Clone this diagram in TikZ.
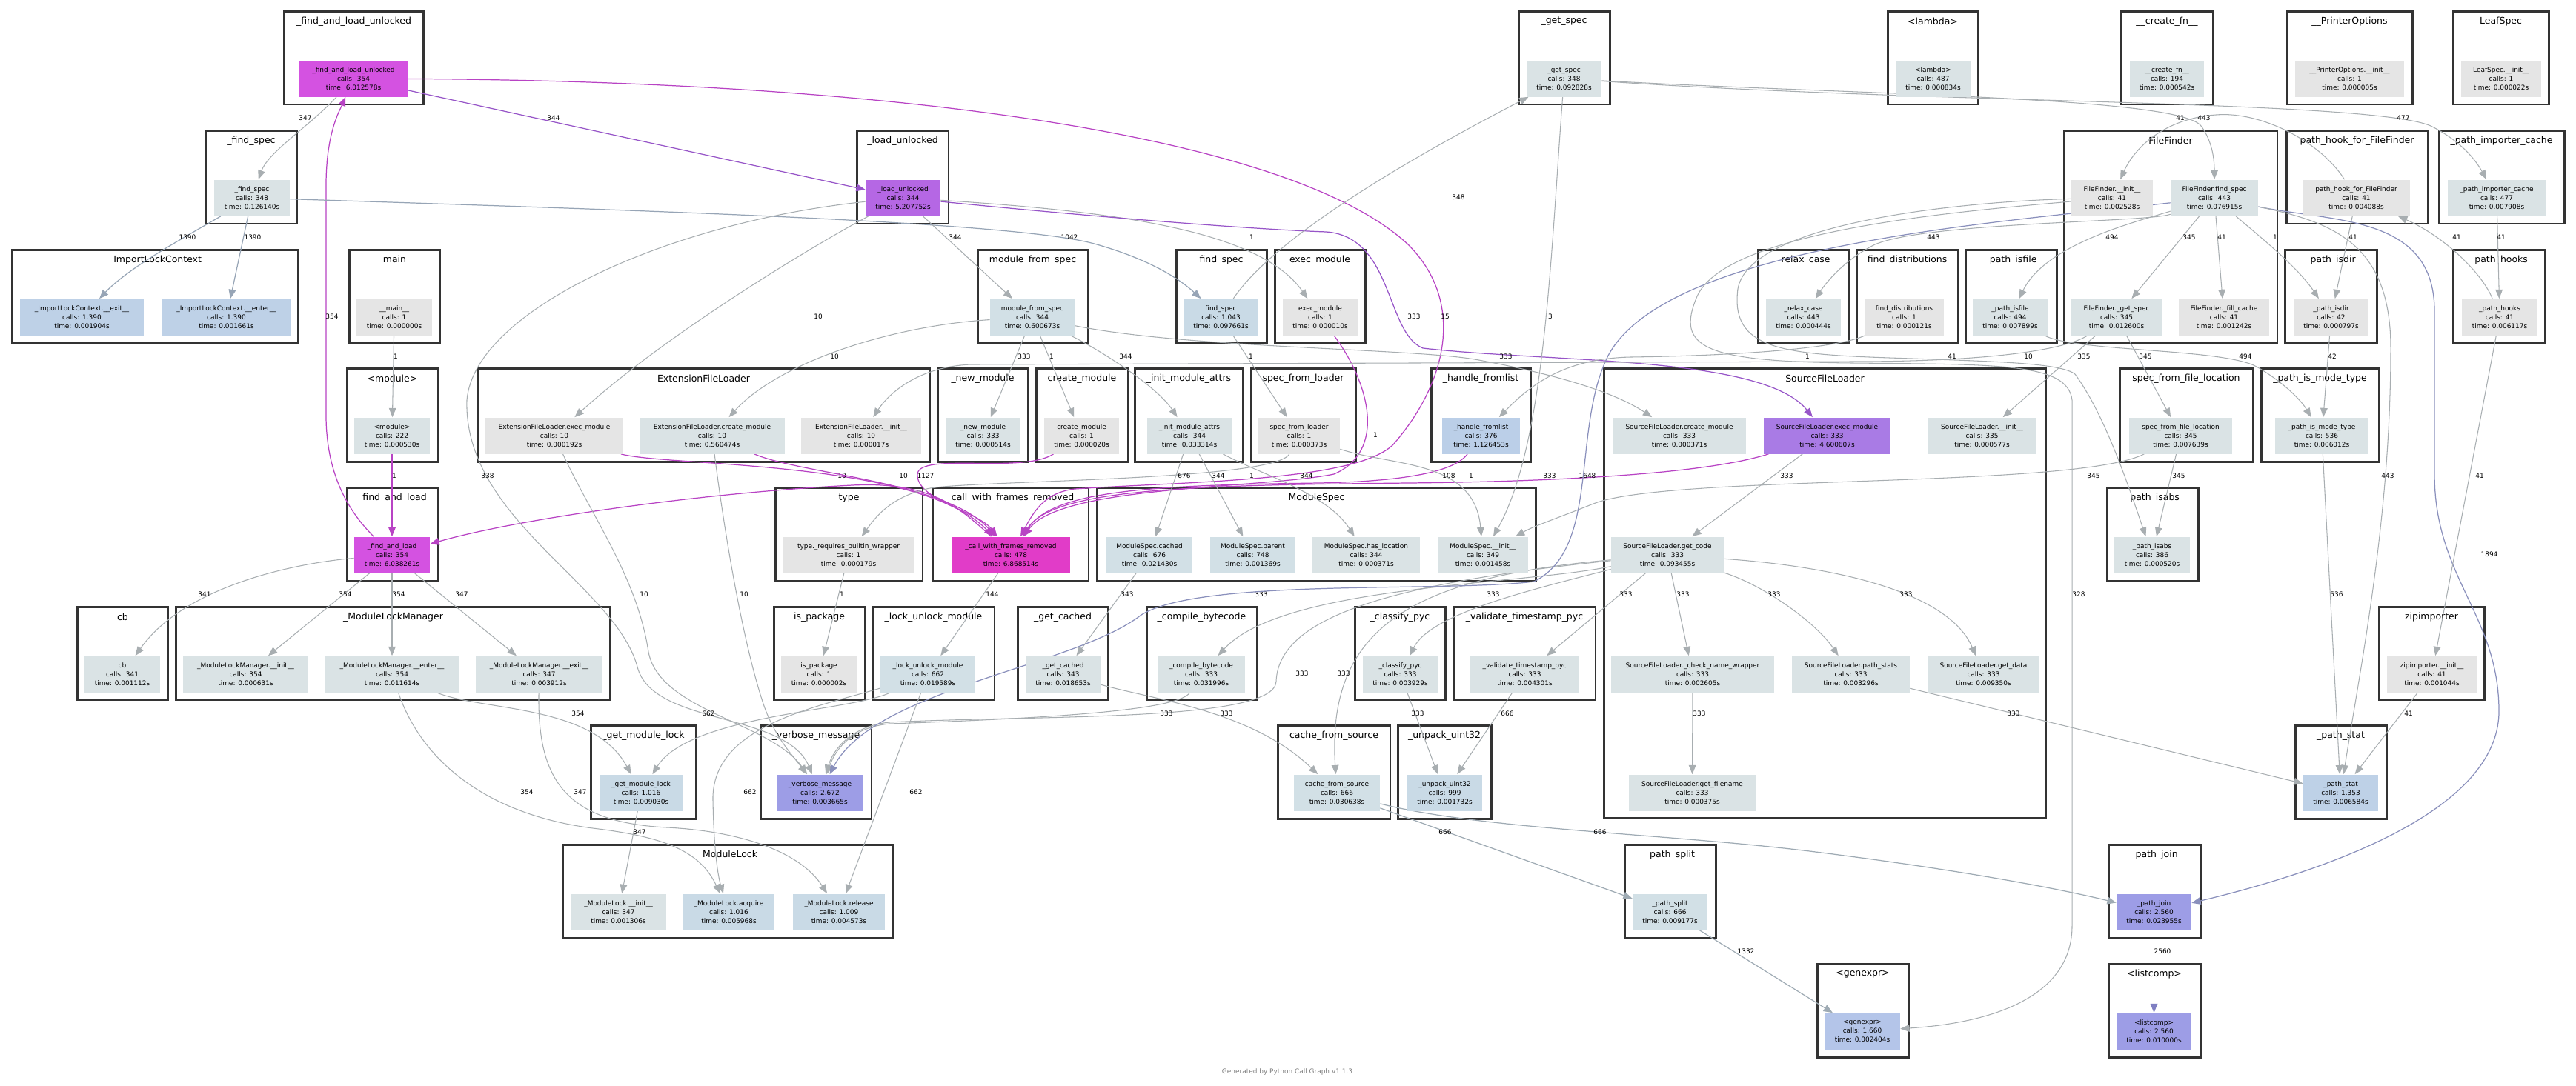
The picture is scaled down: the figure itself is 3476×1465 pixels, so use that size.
\documentclass[tikz,border=0pt]{standalone}
\usepackage{fontspec}
\setmainfont{DejaVu Sans}
\usetikzlibrary{arrows.meta}

\definecolor{cframe}{HTML}{333333}
\definecolor{cmag}{HTML}{D452E1}
\definecolor{ccwf}{HTML}{E13CC8}
\definecolor{clu}{HTML}{B567E4}
\definecolor{csle}{HTML}{A97BE5}
\definecolor{clav}{HTML}{9D9DE6}
\definecolor{cgen}{HTML}{B4C5E9}
\definecolor{chf}{HTML}{BBCFE8}
\definecolor{cblu1}{HTML}{BED1E7}
\definecolor{cblu2}{HTML}{C9DAE6}
\definecolor{cblu3}{HTML}{D2E0E6}
\definecolor{cpale}{HTML}{DAE3E5}
\definecolor{cgray}{HTML}{E5E5E5}
\definecolor{egray}{HTML}{A8AEB1}
\definecolor{emag}{HTML}{B843C4}
\definecolor{epur}{HTML}{9755C8}
\definecolor{eslate}{HTML}{97A5B6}
\definecolor{eslatetwo}{HTML}{9FABB4}
\definecolor{eblue}{HTML}{8A90BC}
\definecolor{elav}{HTML}{7F7FC2}

\pgfdeclarelayer{bg}
\pgfdeclarelayer{fg}
\pgfsetlayers{bg,main,fg}

\begin{document}
\begin{tikzpicture}[
        x = 0.02cm, y = -0.02cm, % one unit = one pixel of the graph
        > = {Triangle[length=7pt,width=5.5pt]}, % arrow head style
        clbox/.style = {draw=cframe, line width=1.7pt, minimum height=2.52cm, inner sep=0pt},
        ctitle/.style = {font=\fontsize{7.1}{8.5}\selectfont, inner sep=0pt},
        fn/.style = {rectangle, align=center, minimum height=0.98cm, inner sep=1pt, font=\fontsize{5.1}{6.8}\selectfont},
        lbl/.style = {font=\fontsize{5.1}{6}\selectfont, inner sep=0pt},
        foot/.style = {font=\fontsize{5.1}{6}\selectfont, text=black!50, inner sep=0pt},
        ee/.style = {->, draw=egray, line width=0.6pt},
        es/.style = {->, draw=eslate, line width=0.7pt},
        estwo/.style = {->, draw=eslatetwo, line width=0.7pt},
        eb/.style = {->, draw=eblue, line width=0.7pt},
        el/.style = {->, draw=elav, line width=0.7pt},
        em/.style = {->, draw=emag, line width=0.7pt},
        ep/.style = {->, draw=epur, line width=0.7pt}
    ]

\useasboundingbox (0,0) rectangle (3476,1465);

\begin{pgfonlayer}{bg}
	\fill[white] (0,0) rectangle (3476,1465);

	% clusters, row 1
	\node[clbox, minimum width=3.78cm] (kFLU) at (477.5,78) {};
	\node[clbox, minimum width=2.46cm] (kGetSpec) at (2110.5,78) {};
	\node[clbox, minimum width=2.44cm] (kLambda) at (2608,78) {};
	\node[clbox, minimum width=2.48cm] (kCreateFn) at (2924,78) {};
	\node[clbox, minimum width=3.38cm] (kPrinter) at (3170.5,78) {};
	\node[clbox, minimum width=2.58cm] (kLeaf) at (3374.5,78) {};
	% row 2
	\node[clbox, minimum width=2.48cm] (kFindSpecU) at (339,239) {};
	\node[clbox, minimum width=2.48cm] (kLoadU) at (1218,239) {};
	\node[clbox, minimum width=5.76cm, minimum height=5.74cm] (kFF) at (2929,319.5) {};
	\node[clbox, minimum width=3.82cm] (kHook) at (3180.5,239) {};
	\node[clbox, minimum width=3.38cm] (kImpCache) at (3375.5,239) {};
	% row 3
	\node[clbox, minimum width=7.74cm] (kILC) at (209.5,400) {};
	\node[clbox, minimum width=2.46cm] (kMain) at (532.5,400) {};
	\node[clbox, minimum width=2.98cm] (kModFromSpec) at (1393.5,400) {};
	\node[clbox, minimum width=2.44cm] (kFindSpec) at (1648,400) {};
	\node[clbox, minimum width=2.44cm] (kExecMod) at (1781,400) {};
	\node[clbox, minimum width=2.46cm] (kRelax) at (2433.5,400) {};
	\node[clbox, minimum width=2.74cm] (kFindDist) at (2573.5,400) {};
	\node[clbox, minimum width=2.46cm] (kIsFile) at (2713.5,400) {};
	\node[clbox, minimum width=2.48cm] (kIsDir) at (3145,400) {};
	\node[clbox, minimum width=2.48cm] (kHooks) at (3372,400) {};
	% row 4
	\node[clbox, minimum width=2.46cm] (kModule) at (529.5,560.5) {};
	\node[clbox, minimum width=12.22cm] (kEFL) at (949.5,560.5) {};
	\node[clbox, minimum width=2.44cm] (kNewMod) at (1326,560.5) {};
	\node[clbox, minimum width=2.48cm] (kCreateMod) at (1460,560.5) {};
	\node[clbox, minimum width=2.92cm] (kInitAttrs) at (1604,560.5) {};
	\node[clbox, minimum width=2.82cm] (kSpecLoader) at (1758.5,560.5) {};
	\node[clbox, minimum width=2.68cm] (kFromlist) at (1998,560.5) {};
	\node[clbox, minimum width=11.94cm, minimum height=12.16cm] (kSFL) at (2462.5,801) {};
	\node[clbox, minimum width=3.6cm] (kSpecFile) at (2950,560.5) {};
	\node[clbox, minimum width=3.18cm] (kModeType) at (3130.5,560.5) {};
	% row 5
	\node[clbox, minimum width=2.46cm] (kFL) at (529.5,721) {};
	\node[clbox, minimum width=3.98cm] (kType) at (1145.5,721) {};
	\node[clbox, minimum width=4.22cm] (kCWF) at (1363.5,721) {};
	\node[clbox, minimum width=11.86cm] (kMS) at (1776.5,721) {};
	\node[clbox, minimum width=2.46cm] (kIsAbs) at (2904.5,721) {};
	% row 6
	\node[clbox, minimum width=2.46cm] (kCb) at (165.5,882) {};
	\node[clbox, minimum width=11.74cm] (kMLM) at (530.5,882) {};
	\node[clbox, minimum width=2.46cm] (kIsPkg) at (1105.5,882) {};
	\node[clbox, minimum width=3.3cm] (kLockUnlock) at (1259.5,882) {};
	\node[clbox, minimum width=2.44cm] (kGetCached) at (1434,882) {};
	\node[clbox, minimum width=2.98cm] (kCompile) at (1621.5,882) {};
	\node[clbox, minimum width=2.44cm] (kClassify) at (1889,882) {};
	\node[clbox, minimum width=3.84cm] (kValidate) at (2057,882) {};
	\node[clbox, minimum width=2.84cm] (kZip) at (3281,882) {};
	% row 7
	\node[clbox, minimum width=2.84cm] (kGetLock) at (868,1042) {};
	\node[clbox, minimum width=3.0cm] (kVerbose) at (1101,1042) {};
	\node[clbox, minimum width=3.04cm] (kCacheSrc) at (1800,1042) {};
	\node[clbox, minimum width=2.52cm] (kUnpack) at (1949,1042) {};
	\node[clbox, minimum width=2.46cm] (kStat) at (3158.5,1042) {};
	% row 8
	\node[clbox, minimum width=8.92cm] (kML) at (982,1203) {};
	\node[clbox, minimum width=2.46cm] (kSplit) at (2253.5,1203) {};
	\node[clbox, minimum width=2.48cm] (kJoin) at (2907,1203) {};
	% row 9
	\node[clbox, minimum width=2.46cm] (kGenexpr) at (2513.5,1364) {};
	\node[clbox, minimum width=2.48cm] (kListcomp) at (2907,1364) {};

	% cluster titles
	\node[ctitle] (tFLU) at (477.5,29) {\_find\_and\_load\_unlocked};
	\node[ctitle] (tGetSpec) at (2110.5,29) {\_get\_spec};
	\node[ctitle] (tLambda) at (2608,29) {<lambda>};
	\node[ctitle] (tCreateFn) at (2924,29) {\_\_create\_fn\_\_};
	\node[ctitle] (tPrinter) at (3170.5,29) {\_\_PrinterOptions};
	\node[ctitle] (tLeaf) at (3374.5,29) {LeafSpec};
	\node[ctitle] (tFindSpecU) at (339,190) {\_find\_spec};
	\node[ctitle] (tLoadU) at (1218,190) {\_load\_unlocked};
	\node[ctitle] (tFF) at (2929,190) {FileFinder};
	\node[ctitle] (tHook) at (3180.5,190) {path\_hook\_for\_FileFinder};
	\node[ctitle] (tImpCache) at (3375.5,190) {\_path\_importer\_cache};
	\node[ctitle] (tILC) at (209.5,351) {\_ImportLockContext};
	\node[ctitle] (tMain) at (532.5,351) {\_\_main\_\_};
	\node[ctitle] (tModFromSpec) at (1393.5,351) {module\_from\_spec};
	\node[ctitle] (tFindSpec) at (1648,351) {find\_spec};
	\node[ctitle] (tExecMod) at (1781,351) {exec\_module};
	\node[ctitle] (tRelax) at (2433.5,351) {\_relax\_case};
	\node[ctitle] (tFindDist) at (2573.5,351) {find\_distributions};
	\node[ctitle] (tIsFile) at (2713.5,351) {\_path\_isfile};
	\node[ctitle] (tIsDir) at (3145,351) {\_path\_isdir};
	\node[ctitle] (tHooks) at (3372,351) {\_path\_hooks};
	\node[ctitle] (tModule) at (529.5,511) {<module>};
	\node[ctitle] (tEFL) at (949.5,511) {ExtensionFileLoader};
	\node[ctitle] (tNewMod) at (1326,511) {\_new\_module};
	\node[ctitle] (tCreateMod) at (1460,511) {create\_module};
	\node[ctitle] (tInitAttrs) at (1604,511) {\_init\_module\_attrs};
	\node[ctitle] (tSpecLoader) at (1758.5,511) {spec\_from\_loader};
	\node[ctitle] (tFromlist) at (1998,511) {\_handle\_fromlist};
	\node[ctitle] (tSFL) at (2462.5,511) {SourceFileLoader};
	\node[ctitle] (tSpecFile) at (2950,511) {spec\_from\_file\_location};
	\node[ctitle] (tModeType) at (3130.5,511) {\_path\_is\_mode\_type};
	\node[ctitle] (tFL) at (529.5,672) {\_find\_and\_load};
	\node[ctitle] (tType) at (1145.5,672) {type};
	\node[ctitle] (tCWF) at (1363.5,672) {\_call\_with\_frames\_removed};
	\node[ctitle] (tMS) at (1776.5,672) {ModuleSpec};
	\node[ctitle] (tIsAbs) at (2904.5,672) {\_path\_isabs};
	\node[ctitle] (tCb) at (165.5,833) {cb};
	\node[ctitle] (tMLM) at (530.5,833) {\_ModuleLockManager};
	\node[ctitle] (tIsPkg) at (1105.5,833) {is\_package};
	\node[ctitle] (tLockUnlock) at (1259.5,833) {\_lock\_unlock\_module};
	\node[ctitle] (tGetCached) at (1434,833) {\_get\_cached};
	\node[ctitle] (tCompile) at (1621.5,833) {\_compile\_bytecode};
	\node[ctitle] (tClassify) at (1889,833) {\_classify\_pyc};
	\node[ctitle] (tValidate) at (2057,833) {\_validate\_timestamp\_pyc};
	\node[ctitle] (tZip) at (3281,833) {zipimporter};
	\node[ctitle] (tGetLock) at (868,993) {\_get\_module\_lock};
	\node[ctitle] (tVerbose) at (1101,993) {\_verbose\_message};
	\node[ctitle] (tCacheSrc) at (1800,993) {cache\_from\_source};
	\node[ctitle] (tUnpack) at (1949,993) {\_unpack\_uint32};
	\node[ctitle] (tStat) at (3158.5,993) {\_path\_stat};
	\node[ctitle] (tML) at (982,1154) {\_ModuleLock};
	\node[ctitle] (tSplit) at (2253.5,1154) {\_path\_split};
	\node[ctitle] (tJoin) at (2907,1154) {\_path\_join};
	\node[ctitle] (tGenexpr) at (2513.5,1315) {<genexpr>};
	\node[ctitle] (tListcomp) at (2907,1315) {<listcomp>};
\end{pgfonlayer}

\begin{pgfonlayer}{fg}
	% functions, row 1
	\node[fn, fill=cmag, minimum width=2.92cm] (nFLU) at (477,106) {\_find\_and\_load\_unlocked\\calls: 354\\time: 6.012578s};
	\node[fn, fill=cpale, minimum width=2.02cm] (nGetSpec) at (2110.5,106) {\_get\_spec\\calls: 348\\time: 0.092828s};
	\node[fn, fill=cpale, minimum width=2.02cm] (nLambda) at (2608.5,106) {<lambda>\\calls: 487\\time: 0.000834s};
	\node[fn, fill=cpale, minimum width=2.0cm] (nCreateFn) at (2924,106) {\_\_create\_fn\_\_\\calls: 194\\time: 0.000542s};
	\node[fn, fill=cgray, minimum width=2.94cm] (nPrinter) at (3170.5,106) {\_\_PrinterOptions.\_\_init\_\_\\calls: 1\\time: 0.000005s};
	\node[fn, fill=cgray, minimum width=2.16cm] (nLeaf) at (3375,106) {LeafSpec.\_\_init\_\_\\calls: 1\\time: 0.000022s};
	% row 2
	\node[fn, fill=cpale, minimum width=2.04cm] (nFindSpecU) at (340,267) {\_find\_spec\\calls: 348\\time: 0.126140s};
	\node[fn, fill=clu, minimum width=2.02cm] (nLoadU) at (1218.5,267) {\_load\_unlocked\\calls: 344\\time: 5.207752s};
	\node[fn, fill=cgray, minimum width=2.2cm] (nFFinit) at (2850,267) {FileFinder.\_\_init\_\_\\calls: 41\\time: 0.002528s};
	\node[fn, fill=cpale, minimum width=2.36cm] (nFFfind) at (2988,267) {FileFinder.find\_spec\\calls: 443\\time: 0.076915s};
	\node[fn, fill=cgray, minimum width=2.9cm] (nHook) at (3179.5,267) {path\_hook\_for\_FileFinder\\calls: 41\\time: 0.004088s};
	\node[fn, fill=cpale, minimum width=2.64cm] (nImpCache) at (3369,267) {\_path\_importer\_cache\\calls: 477\\time: 0.007908s};
	% row 3
	\node[fn, fill=cblu1, minimum width=3.34cm] (nILCexit) at (110.5,428) {\_ImportLockContext.\_\_exit\_\_\\calls: 1.390\\time: 0.001904s};
	\node[fn, fill=cblu1, minimum width=3.5cm] (nILCenter) at (305.5,428) {\_ImportLockContext.\_\_enter\_\_\\calls: 1.390\\time: 0.001661s};
	\node[fn, fill=cgray, minimum width=2.04cm] (nMain) at (532,428) {\_\_main\_\_\\calls: 1\\time: 0.000000s};
	\node[fn, fill=cblu3, minimum width=2.28cm] (nModFromSpec) at (1393,428) {module\_from\_spec\\calls: 344\\time: 0.600673s};
	\node[fn, fill=cblu2, minimum width=2.02cm] (nFindSpec) at (1647.5,428) {find\_spec\\calls: 1.043\\time: 0.097661s};
	\node[fn, fill=cgray, minimum width=2.02cm] (nExecMod) at (1781.5,428) {exec\_module\\calls: 1\\time: 0.000010s};
	\node[fn, fill=cpale, minimum width=2.02cm] (nRelax) at (2433.5,428) {\_relax\_case\\calls: 443\\time: 0.000444s};
	\node[fn, fill=cgray, minimum width=2.14cm] (nFindDist) at (2569.5,428) {find\_distributions\\calls: 1\\time: 0.000121s};
	\node[fn, fill=cpale, minimum width=2.02cm] (nIsFile) at (2712.5,428) {\_path\_isfile\\calls: 494\\time: 0.007899s};
	\node[fn, fill=cpale, minimum width=2.44cm] (nFFget) at (2856,428) {FileFinder.\_get\_spec\\calls: 345\\time: 0.012600s};
	\node[fn, fill=cgray, minimum width=2.44cm] (nFFfill) at (3001,428) {FileFinder.\_fill\_cache\\calls: 41\\time: 0.001242s};
	\node[fn, fill=cgray, minimum width=2.02cm] (nIsDir) at (3145.5,428) {\_path\_isdir\\calls: 42\\time: 0.000797s};
	\node[fn, fill=cgray, minimum width=2.04cm] (nHooks) at (3373,428) {\_path\_hooks\\calls: 41\\time: 0.006117s};
	% row 4
	\node[fn, fill=cpale, minimum width=2.04cm] (nModule) at (529,588) {<module>\\calls: 222\\time: 0.000530s};
	\node[fn, fill=cgray, minimum width=3.72cm] (nEFLexec) at (748,588) {ExtensionFileLoader.exec\_module\\calls: 10\\time: 0.000192s};
	\node[fn, fill=cpale, minimum width=3.92cm] (nEFLcreate) at (961,588) {ExtensionFileLoader.create\_module\\calls: 10\\time: 0.560474s};
	\node[fn, fill=cgray, minimum width=3.24cm] (nEFLinit) at (1162,588) {ExtensionFileLoader.\_\_init\_\_\\calls: 10\\time: 0.000017s};
	\node[fn, fill=cpale, minimum width=2.02cm] (nNewMod) at (1326.5,588) {\_new\_module\\calls: 333\\time: 0.000514s};
	\node[fn, fill=cgray, minimum width=2.02cm] (nCreateMod) at (1459.5,588) {create\_module\\calls: 1\\time: 0.000020s};
	\node[fn, fill=cpale, minimum width=2.28cm] (nInitAttrs) at (1605,588) {\_init\_module\_attrs\\calls: 344\\time: 0.033314s};
	\node[fn, fill=cgray, minimum width=2.2cm] (nSpecLoader) at (1753,588) {spec\_from\_loader\\calls: 1\\time: 0.000373s};
	\node[fn, fill=chf, minimum width=2.1cm] (nFromlist) at (1998.5,588) {\_handle\_fromlist\\calls: 376\\time: 1.126453s};
	\node[fn, fill=cpale, minimum width=3.6cm] (nSFLcreate) at (2266,588) {SourceFileLoader.create\_module\\calls: 333\\time: 0.000371s};
	\node[fn, fill=csle, minimum width=3.42cm] (nSFLexec) at (2465.5,588) {SourceFileLoader.exec\_module\\calls: 333\\time: 4.600607s};
	\node[fn, fill=cpale, minimum width=2.94cm] (nSFLinit) at (2674.5,588) {SourceFileLoader.\_\_init\_\_\\calls: 335\\time: 0.000577s};
	\node[fn, fill=cpale, minimum width=2.78cm] (nSpecFile) at (2942.5,588) {spec\_from\_file\_location\\calls: 345\\time: 0.007639s};
	\node[fn, fill=cpale, minimum width=2.52cm] (nModeType) at (3133,588) {\_path\_is\_mode\_type\\calls: 536\\time: 0.006012s};
	% row 5
	\node[fn, fill=cmag, minimum width=2.04cm] (nFL) at (529,749) {\_find\_and\_load\\calls: 354\\time: 6.038261s};
	\node[fn, fill=cgray, minimum width=3.52cm] (nType) at (1145,749) {type.\_requires\_builtin\_wrapper\\calls: 1\\time: 0.000179s};
	\node[fn, fill=ccwf, minimum width=3.2cm] (nCWF) at (1364,749) {\_call\_with\_frames\_removed\\calls: 478\\time: 6.868514s};
	\node[fn, fill=cblu3, minimum width=2.32cm] (nMScached) at (1551,749) {ModuleSpec.cached\\calls: 676\\time: 0.021430s};
	\node[fn, fill=cblu3, minimum width=2.3cm] (nMSparent) at (1690.5,749) {ModuleSpec.parent\\calls: 748\\time: 0.001369s};
	\node[fn, fill=cpale, minimum width=2.9cm] (nMShasloc) at (1843.5,749) {ModuleSpec.has\_location\\calls: 344\\time: 0.000371s};
	\node[fn, fill=cpale, minimum width=2.44cm] (nMSinit) at (2001,749) {ModuleSpec.\_\_init\_\_\\calls: 349\\time: 0.001458s};
	\node[fn, fill=cpale, minimum width=3.04cm] (nGetCode) at (2250,749) {SourceFileLoader.get\_code\\calls: 333\\time: 0.093455s};
	\node[fn, fill=cpale, minimum width=2.04cm] (nIsAbs) at (2904,749) {\_path\_isabs\\calls: 386\\time: 0.000520s};
	% row 6
	\node[fn, fill=cpale, minimum width=2.04cm] (nCb) at (165,910) {cb\\calls: 341\\time: 0.001112s};
	\node[fn, fill=cpale, minimum width=3.38cm] (nMLMinit) at (331.5,910) {\_ModuleLockManager.\_\_init\_\_\\calls: 354\\time: 0.000631s};
	\node[fn, fill=cpale, minimum width=3.6cm] (nMLMenter) at (529,910) {\_ModuleLockManager.\_\_enter\_\_\\calls: 354\\time: 0.011614s};
	\node[fn, fill=cpale, minimum width=3.42cm] (nMLMexit) at (727.5,910) {\_ModuleLockManager.\_\_exit\_\_\\calls: 347\\time: 0.003912s};
	\node[fn, fill=cgray, minimum width=2.04cm] (nIsPkg) at (1105,910) {is\_package\\calls: 1\\time: 0.000002s};
	\node[fn, fill=cblu3, minimum width=2.56cm] (nLockUnlock) at (1252,910) {\_lock\_unlock\_module\\calls: 662\\time: 0.019589s};
	\node[fn, fill=cpale, minimum width=2.02cm] (nGetCached) at (1434.5,910) {\_get\_cached\\calls: 343\\time: 0.018653s};
	\node[fn, fill=cpale, minimum width=2.36cm] (nCompile) at (1621,910) {\_compile\_bytecode\\calls: 333\\time: 0.031996s};
	\node[fn, fill=cpale, minimum width=2.02cm] (nClassify) at (1889.5,910) {\_classify\_pyc\\calls: 333\\time: 0.003929s};
	\node[fn, fill=cpale, minimum width=2.94cm] (nValidate) at (2057.5,910) {\_validate\_timestamp\_pyc\\calls: 333\\time: 0.004301s};
	\node[fn, fill=cpale, minimum width=4.4cm] (nCheckName) at (2284,910) {SourceFileLoader.\_check\_name\_wrapper\\calls: 333\\time: 0.002605s};
	\node[fn, fill=cpale, minimum width=3.18cm] (nPathStats) at (2497.5,910) {SourceFileLoader.path\_stats\\calls: 333\\time: 0.003296s};
	\node[fn, fill=cpale, minimum width=3.02cm] (nGetData) at (2676.5,910) {SourceFileLoader.get\_data\\calls: 333\\time: 0.009350s};
	\node[fn, fill=cgray, minimum width=2.42cm] (nZip) at (3281.5,910) {zipimporter.\_\_init\_\_\\calls: 41\\time: 0.001044s};
	% row 7
	\node[fn, fill=cblu2, minimum width=2.24cm] (nGetLock) at (865,1070) {\_get\_module\_lock\\calls: 1.016\\time: 0.009030s};
	\node[fn, fill=clav, minimum width=2.3cm] (nVerbose) at (1106.5,1070) {\_verbose\_message\\calls: 2.672\\time: 0.003665s};
	\node[fn, fill=cblu3, minimum width=2.32cm] (nCacheSrc) at (1804,1070) {cache\_from\_source\\calls: 666\\time: 0.030638s};
	\node[fn, fill=cblu2, minimum width=2.02cm] (nUnpack) at (1949.5,1070) {\_unpack\_uint32\\calls: 999\\time: 0.001732s};
	\node[fn, fill=cpale, minimum width=3.42cm] (nGetFile) at (2283.5,1070) {SourceFileLoader.get\_filename\\calls: 333\\time: 0.000375s};
	\node[fn, fill=cblu1, minimum width=2.02cm] (nStat) at (3158.5,1070) {\_path\_stat\\calls: 1.353\\time: 0.006584s};
	% row 8
	\node[fn, fill=cpale, minimum width=2.58cm] (nMLinit) at (834.5,1231) {\_ModuleLock.\_\_init\_\_\\calls: 347\\time: 0.001306s};
	\node[fn, fill=cblu2, minimum width=2.46cm] (nMLacq) at (983.5,1231) {\_ModuleLock.acquire\\calls: 1.016\\time: 0.005968s};
	\node[fn, fill=cblu2, minimum width=2.48cm] (nMLrel) at (1132,1231) {\_ModuleLock.release\\calls: 1.009\\time: 0.004573s};
	\node[fn, fill=cblu3, minimum width=2.02cm] (nSplit) at (2253.5,1231) {\_path\_split\\calls: 666\\time: 0.009177s};
	\node[fn, fill=clav, minimum width=2.02cm] (nJoin) at (2906.5,1231) {\_path\_join\\calls: 2.560\\time: 0.023955s};
	% row 9
	\node[fn, fill=cgen, minimum width=2.04cm] (nGenexpr) at (2513,1392) {<genexpr>\\calls: 1.660\\time: 0.002404s};
	\node[fn, fill=clav, minimum width=2.02cm] (nListcomp) at (2906.5,1392) {<listcomp>\\calls: 2.560\\time: 0.010000s};

	\node[foot] (credit) at (1737,1447) {Generated by Python Call Graph v1.1.3};
\end{pgfonlayer}

	% calls out of the import machinery
	\draw[ee] (nFLU) .. controls (418,170) and (362,205) .. (nFindSpecU) node[lbl] at (412,159) {347};
	\draw[ep] (nFLU) -- (nLoadU) node[lbl] at (747,159) {344};
	\draw[em] (nFLU) .. controls (1250,110) and (1750,190) .. (1900,330) .. controls (1980,410) and (1950,520) .. (1880,600) .. controls (1830,650) and (1600,650) .. (1450,660) .. controls (1410,665) and (1395,690) .. (nCWF) node[lbl] at (1950,427) {15};
	\draw[em] (nFL) .. controls (470,690) and (440,640) .. (440,560) -- (440,250) .. controls (440,180) and (458,150) .. (nFLU) node[lbl] at (448,427) {354};
	\draw[es] (nFindSpecU) .. controls (250,320) and (175,360) .. (nILCexit) node[lbl] at (253,320) {1390};
	\draw[es] (nFindSpecU) -- (nILCenter) node[lbl] at (341,320) {1390};
	\draw[es] (nFindSpecU) .. controls (900,285) and (1380,300) .. (1480,330) .. controls (1550,350) and (1590,375) .. (nFindSpec) node[lbl] at (1443,320) {1042};
	\draw[ee] (nMain) -- (nModule) node[lbl] at (534,481) {1};
	\draw[em] (nModule) -- (nFL) node[lbl] at (532,642) {1};
	\draw[em] (nCWF) .. controls (1290,680) and (1250,650) .. (1150,655) .. controls (950,665) and (700,700) .. (nFL) node[lbl] at (1249,642) {1127};

	\draw[ee] (nLoadU) -- (nModFromSpec) node[lbl] at (1289,320) {344};
	\draw[ee] (nLoadU) .. controls (1500,285) and (1700,310) .. (nExecMod) node[lbl] at (1689,320) {1};
	\draw[ep] (nLoadU) .. controls (1500,295) and (1700,310) .. (1790,313) .. controls (1880,320) and (1870,450) .. (1920,470) .. controls (2100,490) and (2380,480) .. (nSFLexec) node[lbl] at (1908,427) {333};
	\draw[ee] (nLoadU) .. controls (1100,330) and (900,450) .. (nEFLexec) node[lbl] at (1104,427) {10};
	\draw[ee] (nLoadU) .. controls (900,300) and (640,420) .. (630,540) .. controls (625,700) and (830,790) .. (860,900) .. controls (880,980) and (1060,960) .. (nVerbose) node[lbl] at (658,642) {338};

	\draw[ee] (nFindSpec) .. controls (1720,320) and (1900,215) .. (nGetSpec) node[lbl] at (1968,266) {348};
	\draw[ee] (nFindSpec) -- (nSpecLoader) node[lbl] at (1688,481) {1};
	\draw[ee] (nModFromSpec) .. controls (1200,440) and (1050,490) .. (nEFLcreate) node[lbl] at (1126,481) {10};
	\draw[ee] (nModFromSpec) -- (nNewMod) node[lbl] at (1382,481) {333};
	\draw[ee] (nModFromSpec) -- (nCreateMod) node[lbl] at (1419,481) {1};
	\draw[ee] (nModFromSpec) .. controls (1480,470) and (1560,520) .. (nInitAttrs) node[lbl] at (1519,481) {344};
	\draw[ee] (nModFromSpec) .. controls (1600,470) and (1900,470) .. (1990,485) .. controls (2100,505) and (2180,530) .. (nSFLcreate) node[lbl] at (2032,481) {333};

	% into _call_with_frames_removed
	\draw[em] (nEFLexec) .. controls (900,630) and (1240,620) .. (nCWF) node[lbl] at (1136,642) {10};
	\draw[em] (nEFLcreate) .. controls (1080,640) and (1280,650) .. (nCWF) node[lbl] at (1219,642) {10};
	\draw[em] (nCreateMod) .. controls (1380,640) and (1240,610) .. (1238,640) .. controls (1236,675) and (1320,690) .. (nCWF);
	\draw[em] (nSFLexec) .. controls (2300,640) and (2100,650) .. (1900,652) .. controls (1600,655) and (1420,660) .. (nCWF) node[lbl] at (2091,642) {333};
	\draw[em] (nFromlist) .. controls (1960,640) and (1880,650) .. (1780,652) .. controls (1550,655) and (1420,662) .. (nCWF) node[lbl] at (1955,642) {108};
	\draw[em] (nExecMod) .. controls (1850,520) and (1870,610) .. (1800,640) .. controls (1700,660) and (1430,655) .. (nCWF) node[lbl] at (1856,587) {1};

	\draw[ee] (nSpecLoader) .. controls (1720,650) and (1300,648) .. (1250,660) .. controls (1200,672) and (1180,700) .. (nType) node[lbl] at (1689,642) {1};
	\draw[ee] (nSpecLoader) .. controls (1880,630) and (1990,620) .. (nMSinit) node[lbl] at (1985,642) {1};
	\draw[ee] (nGetSpec) .. controls (2092,350) and (2085,600) .. (nMSinit) node[lbl] at (2092,427) {3};
	\draw[ee] (nSpecFile) .. controls (2800,660) and (2250,640) .. (2150,680) .. controls (2100,700) and (2070,710) .. (nMSinit) node[lbl] at (2825,642) {345};
	\draw[ee] (nInitAttrs) -- (nMScached) node[lbl] at (1598,642) {676};
	\draw[ee] (nInitAttrs) -- (nMSparent) node[lbl] at (1644,642) {344};
	\draw[ee] (nInitAttrs) .. controls (1700,640) and (1790,665) .. (nMShasloc) node[lbl] at (1763,642) {344};
	\draw[ee] (nMScached) -- (nGetCached) node[lbl] at (1521,802) {343};
	\draw[ee] (nType) -- (nIsPkg) node[lbl] at (1136,802) {1};
	\draw[ee] (nCWF) -- (nLockUnlock) node[lbl] at (1339,802) {144};
	\draw[ee] (nSFLexec) -- (nGetCode) node[lbl] at (2411,642) {333};

	% SourceFileLoader.get_code
	\draw[ee] (nGetCode) .. controls (2050,790) and (1730,790) .. (nCompile) node[lbl] at (1702,802) {333};
	\draw[ee] (nGetCode) .. controls (2050,800) and (1930,830) .. (nClassify) node[lbl] at (2015,802) {333};
	\draw[ee] (nGetCode) -- (nValidate) node[lbl] at (2194,802) {333};
	\draw[ee] (nGetCode) -- (nCheckName) node[lbl] at (2271,802) {333};
	\draw[ee] (nGetCode) .. controls (2380,790) and (2450,840) .. (nPathStats) node[lbl] at (2394,802) {333};
	\draw[ee] (nGetCode) .. controls (2480,765) and (2630,800) .. (nGetData) node[lbl] at (2572,802) {333};
	\draw[ee] (nGetCode) .. controls (1900,780) and (1790,850) .. (nCacheSrc) node[lbl] at (1813,909) {333};
	\draw[ee] (nGetCode) .. controls (1850,790) and (1725,840) .. (1722,920) .. controls (1720,975) and (1400,965) .. (1200,975) .. controls (1150,980) and (1125,1010) .. (nVerbose) node[lbl] at (1757,909) {333};
	\draw[ee] (nCompile) .. controls (1590,960) and (1400,970) .. (1200,977) .. controls (1150,982) and (1128,1010) .. (nVerbose) node[lbl] at (1574,963) {333};
	\draw[eb] (nFFfind) .. controls (2700,300) and (2250,330) .. (2170,480) .. controls (2120,580) and (2160,740) .. (2070,785) .. controls (1950,800) and (1620,780) .. (1540,830) .. controls (1450,900) and (1180,930) .. (nVerbose) node[lbl] at (2142,642) {1648};
	\draw[ee] (nEFLexec) .. controls (800,700) and (860,780) .. (875,880) .. controls (890,960) and (1040,975) .. (nVerbose) node[lbl] at (869,802) {10};
	\draw[ee] (nEFLcreate) .. controls (975,700) and (1000,860) .. (1030,950) .. controls (1045,995) and (1070,1020) .. (nVerbose) node[lbl] at (1004,802) {10};

	\draw[ee] (nGetCached) .. controls (1560,945) and (1690,960) .. (nCacheSrc) node[lbl] at (1655,963) {333};
	\draw[ee] (nClassify) -- (nUnpack) node[lbl] at (1913,963) {333};
	\draw[ee] (nValidate) -- (nUnpack) node[lbl] at (2034,963) {666};
	\draw[ee] (nCheckName) -- (nGetFile) node[lbl] at (2293,963) {333};
	\draw[ee] (nPathStats) -- (nStat) node[lbl] at (2717,963) {333};
	\draw[estwo] (nCacheSrc) -- (nSplit) node[lbl] at (1950,1123) {666};
	\draw[estwo] (nCacheSrc) .. controls (2000,1120) and (2250,1125) .. (2450,1150) .. controls (2650,1175) and (2780,1200) .. (nJoin) node[lbl] at (2159,1123) {666};
	\draw[estwo] (nSplit) -- (nGenexpr) node[lbl] at (2356,1284) {1332};
	\draw[el] (nJoin) -- (nListcomp) node[lbl] at (2918,1284) {2560};

	% FileFinder and path hooks
	\draw[eb] (nFFfind) .. controls (3150,300) and (3285,290) .. (3285,420) -- (3285,640) .. controls (3285,780) and (3372,830) .. (3372,960) .. controls (3372,1100) and (3120,1180) .. (nJoin) node[lbl] at (3359,748) {1894};
	\draw[ee] (nFFfind) .. controls (3150,300) and (3226,330) .. (3226,470) .. controls (3226,700) and (3185,900) .. (nStat) node[lbl] at (3222,642) {443};
	\draw[ee] (nModeType) -- (nStat) node[lbl] at (3153,802) {536};
	\draw[ee] (nZip) -- (nStat) node[lbl] at (3250,963) {41};
	\draw[ee] (nHooks) -- (nZip) node[lbl] at (3346,642) {41};
	\draw[ee] (nImpCache) -- (nHooks) node[lbl] at (3375,320) {41};
	\draw[ee] (nHooks) .. controls (3350,370) and (3300,320) .. (nHook) node[lbl] at (3315,320) {41};
	\draw[ee] (nHook) -- (nIsDir) node[lbl] at (3175,320) {41};
	\draw[ee] (nHook) .. controls (3130,190) and (3050,150) .. (2990,155) .. controls (2920,160) and (2880,200) .. (nFFinit) node[lbl] at (2942,159) {41};
	\draw[ee] (nGetSpec) .. controls (2500,128) and (2940,130) .. (2970,170) .. controls (2985,190) and (2988,215) .. (nFFfind) node[lbl] at (2974,159) {443};
	\draw[ee] (nGetSpec) .. controls (2600,140) and (3200,135) .. (3280,170) .. controls (3320,190) and (3340,215) .. (nImpCache) node[lbl] at (3243,159) {477};
	\draw[ee] (nFFfind) .. controls (2880,300) and (2760,330) .. (nIsFile) node[lbl] at (2850,320) {494};
	\draw[ee] (nFFfind) -- (nFFget) node[lbl] at (2954,320) {345};
	\draw[ee] (nFFfind) -- (nFFfill) node[lbl] at (2998,320) {41};
	\draw[ee] (nFFfind) .. controls (3050,320) and (3100,360) .. (nIsDir) node[lbl] at (3070,320) {1};
	\draw[ee] (nFFfind) .. controls (2900,300) and (2600,300) .. (2530,330) .. controls (2490,350) and (2465,380) .. (nRelax) node[lbl] at (2609,320) {443};
	\draw[ee] (nFFget) -- (nSpecFile) node[lbl] at (2895,481) {345};
	\draw[ee] (nFFget) -- (nSFLinit) node[lbl] at (2812,481) {335};
	\draw[ee] (nFFget) .. controls (2790,470) and (2700,488) .. (2500,488) -- (1310,492) .. controls (1240,495) and (1200,530) .. (nEFLinit) node[lbl] at (2737,481) {10};
	\draw[ee] (nFFinit) .. controls (2650,272) and (2360,300) .. (2345,390) .. controls (2335,470) and (2400,478) .. (2550,483) .. controls (2700,488) and (2780,490) .. (2800,505) .. controls (2840,560) and (2870,650) .. (nIsAbs) node[lbl] at (2634,481) {41};
	\draw[ee] (nFFinit) .. controls (2650,285) and (2330,310) .. (2290,400) .. controls (2260,470) and (2300,488) .. (2500,490) .. controls (2700,492) and (2790,490) .. (2796,540) -- (2796,1250) .. controls (2796,1340) and (2700,1380) .. (nGenexpr) node[lbl] at (2805,802) {328};
	\draw[ee] (nFindDist) .. controls (2480,470) and (2350,480) .. (2200,482) .. controls (2110,484) and (2065,520) .. (nFromlist) node[lbl] at (2439,481) {1};
	\draw[ee] (nSpecFile) -- (nIsAbs) node[lbl] at (2940,642) {345};
	\draw[ee] (nIsFile) .. controls (2800,475) and (3000,470) .. (3045,495) .. controls (3080,515) and (3105,540) .. (nModeType) node[lbl] at (3030,481) {494};
	\draw[ee] (nIsDir) -- (nModeType) node[lbl] at (3147,481) {42};

	% module locks
	\draw[ee] (nFL) .. controls (400,760) and (250,790) .. (nCb) node[lbl] at (276,802) {341};
	\draw[ee] (nFL) -- (nMLMinit) node[lbl] at (466,802) {354};
	\draw[ee] (nFL) -- (nMLMenter) node[lbl] at (538,802) {354};
	\draw[ee] (nFL) -- (nMLMexit) node[lbl] at (623,802) {347};
	\draw[ee] (nMLMenter) .. controls (650,960) and (800,950) .. (nGetLock) node[lbl] at (780,963) {354};
	\draw[ee] (nMLMenter) .. controls (570,1030) and (660,1100) .. (800,1118) .. controls (900,1130) and (945,1150) .. (nMLacq) node[lbl] at (711,1069) {354};
	\draw[ee] (nMLMexit) .. controls (725,1050) and (760,1110) .. (900,1117) .. controls (1000,1122) and (1080,1150) .. (nMLrel) node[lbl] at (783,1069) {347};
	\draw[ee] (nGetLock) -- (nMLinit) node[lbl] at (863,1123) {347};
	\draw[ee] (nLockUnlock) .. controls (1150,960) and (930,965) .. (nGetLock) node[lbl] at (956,963) {662};
	\draw[ee] (nLockUnlock) .. controls (1100,955) and (960,980) .. (962,1080) .. controls (963,1140) and (968,1180) .. (nMLacq) node[lbl] at (1012,1069) {662};
	\draw[ee] (nLockUnlock) -- (nMLrel) node[lbl] at (1236,1069) {662};
\end{tikzpicture}
\end{document}
